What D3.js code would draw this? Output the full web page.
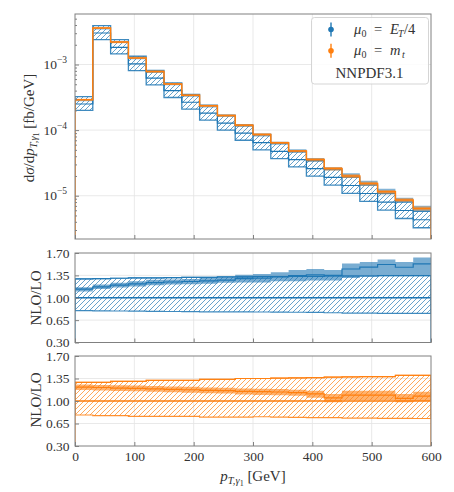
<!DOCTYPE html>
<html><head><meta charset="utf-8">
<script src="https://cdn.jsdelivr.net/npm/d3@7"></script>
<style>
body{margin:0;background:#fff}
text{font-family:"Liberation Serif","Times New Roman",serif;fill:#333}
</style>
</head><body>
<svg id="c" width="454" height="492"></svg>
<script>
// ---------------- data ----------------
const binEdges = [0,30,60,90,120,150,180,210,240,270,300,330,360,390,420,450,480,510,540,570,600];
// LO central, mu0 = E_T/4 [fb/GeV]
const loEt = [2.5e-4,3.02e-3,1.83e-3,1.02e-3,6.2e-4,4.0e-4,2.66e-4,1.82e-4,1.28e-4,9.0e-5,
              6.45e-5,4.75e-5,3.55e-5,2.58e-5,1.9e-5,1.43e-5,1.08e-5,8.0e-6,5.95e-6,4.3e-6];
// NLO central, mu0 = m_t [fb/GeV]
const nloMt = [2.9e-4,3.6e-3,2.2e-3,1.26e-3,7.8e-4,5.05e-4,3.4e-4,2.35e-4,1.67e-4,1.19e-4,
               8.6e-5,6.4e-5,4.8e-5,3.55e-5,2.6e-5,2.0e-5,1.53e-5,1.15e-5,8.6e-6,6.4e-6];
// ratio panel, mu0 = E_T/4 : LO scale band / LO
const loEtLo = [0.80,0.795,0.793,0.79,0.788,0.785,0.783,0.78,0.78,0.778,0.777,0.775,0.773,0.77,0.765,0.76,0.758,0.756,0.755,0.755];
const loEtHi = [1.295,1.30,1.305,1.31,1.31,1.315,1.32,1.32,1.325,1.325,1.33,1.33,1.335,1.335,1.34,1.34,1.34,1.345,1.345,1.345];
// ratio panel, mu0 = E_T/4 : NLO / LO
const nloEtC  = [1.135,1.17,1.197,1.218,1.238,1.246,1.254,1.265,1.277,1.30,1.305,1.33,1.345,1.36,1.35,1.45,1.48,1.52,1.477,1.53];
const nloEtLo = [1.098,1.135,1.16,1.176,1.197,1.207,1.213,1.22,1.233,1.24,1.24,1.26,1.26,1.27,1.27,1.31,1.337,1.353,1.34,1.353];
const nloEtHi = [1.166,1.207,1.233,1.26,1.28,1.285,1.295,1.31,1.32,1.36,1.37,1.40,1.435,1.45,1.435,1.535,1.56,1.60,1.56,1.63];
// ratio panel, mu0 = m_t : LO scale band / LO
const loMtLo = [0.782,0.771,0.771,0.76,0.76,0.76,0.76,0.75,0.75,0.75,0.755,0.75,0.745,0.742,0.74,0.735,0.733,0.73,0.73,0.728];
const loMtHi = [1.29,1.29,1.305,1.305,1.32,1.32,1.32,1.335,1.335,1.35,1.35,1.355,1.36,1.365,1.37,1.375,1.378,1.38,1.40,1.40];
// ratio panel, mu0 = m_t : NLO / LO
const nloMtC  = [1.215,1.21,1.20,1.195,1.19,1.18,1.175,1.165,1.16,1.15,1.145,1.14,1.13,1.11,1.05,1.09,1.09,1.09,1.04,1.075];
const nloMtLo = [1.17,1.165,1.155,1.15,1.145,1.135,1.13,1.12,1.115,1.10,1.095,1.09,1.08,1.05,0.98,1.015,1.015,1.015,0.98,1.0];
const nloMtHi = [1.255,1.25,1.245,1.24,1.235,1.225,1.22,1.21,1.205,1.195,1.19,1.185,1.175,1.16,1.11,1.16,1.16,1.16,1.11,1.145];

const xTicks = [0,100,200,300,400,500,600];
const logTicks = [1e-5,1e-4,1e-3];
const logTickLabels = ["−5","−4","−3"];
const ratioTicks = [0.30,0.65,1.00,1.35,1.70];
const legendLabels = [{base:"E",sub:"T",tail:"/4"},{base:"m",sub:"t",tail:""}];

// ---------------- layout ----------------
const BLUE = "#1f77b4", ORANGE = "#ff7f0e";
const L = 75, R = 431;
const P = {top:{t:14,b:239}, mid:{t:253,b:342.5}, bot:{t:356,b:446}};
const svg = d3.select("#c");
const x = d3.scaleLinear([0,600],[L,R]);
const yTop = d3.scaleLog([Math.pow(10,-5.66),Math.pow(10,-2.23)],[P.top.b,P.top.t]);
const yMid = d3.scaleLinear([0.3,1.7],[P.mid.b,P.mid.t]);
const yBot = d3.scaleLinear([0.3,1.7],[P.bot.b,P.bot.t]);
const n = loEt.length;

const defs = svg.append("defs");
function hatch(id,color){
  const p = defs.append("pattern").attr("id",id).attr("patternUnits","userSpaceOnUse")
    .attr("width",5).attr("height",5);
  p.append("path").attr("d","M-1,1 l2,-2 M0,5 l5,-5 M4,6 l2,-2")
    .attr("stroke",color).attr("stroke-width",0.8).attr("stroke-opacity",0.85);
}
hatch("hb",BLUE); hatch("ho",ORANGE);
Object.entries(P).forEach(([k,p])=>{
  defs.append("clipPath").attr("id","cl"+k).append("rect")
    .attr("x",L).attr("y",p.t).attr("width",R-L).attr("height",p.b-p.t);
});

function pts(lo,hi){
  return binEdges.map((e,i)=>({x:e, lo:lo[Math.min(i,n-1)], hi:hi[Math.min(i,n-1)]}));
}
function areaGen(y){ return d3.area().curve(d3.curveStepAfter).x(d=>x(d.x)).y0(d=>y(d.lo)).y1(d=>y(d.hi)); }
function lineGen(y){ return d3.line().curve(d3.curveStepAfter).x(d=>x(d.x)).y(d=>y(d.hi)); }
function stairsToBase(vals,y,base){
  const d = lineGen(y)(pts(vals,vals));
  return "M"+x(0)+","+base+"L"+d.slice(1)+"L"+x(600)+","+base;
}

// grids + frames
function panelBase(key,y,yt,isLog){
  const p = P[key];
  const g = svg.append("g");
  g.selectAll(".gx").data(xTicks.slice(1,-1)).join("line")
    .attr("x1",d=>x(d)).attr("x2",d=>x(d)).attr("y1",p.t).attr("y2",p.b)
    .attr("stroke","#e3e3e3").attr("stroke-width",0.8);
  g.selectAll(".gy").data(yt).join("line")
    .attr("x1",L).attr("x2",R).attr("y1",d=>y(d)).attr("y2",d=>y(d))
    .attr("stroke","#e3e3e3").attr("stroke-width",0.8);
}
panelBase("top",yTop,logTicks,true);
panelBase("mid",yMid,ratioTicks.slice(1,-1));
panelBase("bot",yBot,ratioTicks.slice(1,-1));

// ---------------- top panel ----------------
const gT = svg.append("g").attr("clip-path","url(#cltop)");
const loAbsLo = loEt.map((v,i)=>v*loEtLo[i]);
const loAbsHi = loEt.map((v,i)=>v*loEtHi[i]);
gT.append("path").attr("d",areaGen(yTop)(pts(loAbsLo,loAbsHi)))
  .attr("fill","url(#hb)").attr("stroke",BLUE).attr("stroke-width",1.3).attr("stroke-opacity",0.85);
gT.append("path").attr("d",lineGen(yTop)(pts(loEt,loEt)))
  .attr("fill","none").attr("stroke",BLUE).attr("stroke-width",1.2);
const nloAbsLo = loEt.map((v,i)=>v*nloEtLo[i]);
const nloAbsHi = loEt.map((v,i)=>v*nloEtHi[i]);
gT.append("path").attr("d",areaGen(yTop)(pts(nloAbsLo,nloAbsHi)))
  .attr("fill",BLUE).attr("fill-opacity",0.55);
const mtAbsLo = nloMt.map((v,i)=>v*nloMtLo[i]/nloMtC[i]);
const mtAbsHi = nloMt.map((v,i)=>v*nloMtHi[i]/nloMtC[i]);
gT.append("path").attr("d",areaGen(yTop)(pts(mtAbsLo,mtAbsHi)))
  .attr("fill",ORANGE).attr("fill-opacity",0.5);
gT.append("path").attr("d",stairsToBase(nloMt,yTop,P.top.b))
  .attr("fill","none").attr("stroke",ORANGE).attr("stroke-width",1.5);

// ---------------- ratio panels ----------------
function ratioPanel(key,y,color,pat,bLo,bHi,c,lo,hi){
  const g = svg.append("g").attr("clip-path","url(#cl"+key+")");
  g.append("path").attr("d",areaGen(y)(pts(bLo,bHi)))
    .attr("fill","url(#"+pat+")").attr("stroke",color).attr("stroke-width",1.2).attr("stroke-opacity",0.85);
  g.append("path").attr("d",stairsToBase(bHi,y,P[key].b))
    .attr("fill","none").attr("stroke",color).attr("stroke-width",1.2).attr("stroke-opacity",0.85);
  const ones = bLo.map(()=>1);
  g.append("path").attr("d",lineGen(y)(pts(ones,ones)))
    .attr("fill","none").attr("stroke",color).attr("stroke-width",1.3);
  g.append("path").attr("d",areaGen(y)(pts(lo,hi)))
    .attr("fill",color).attr("fill-opacity",0.6);
  g.append("path").attr("d",lineGen(y)(pts(c,c)))
    .attr("fill","none").attr("stroke",color).attr("stroke-width",1.2);
}
ratioPanel("mid",yMid,BLUE,"hb",loEtLo,loEtHi,nloEtC,nloEtLo,nloEtHi);
ratioPanel("bot",yBot,ORANGE,"ho",loMtLo,loMtHi,nloMtC,nloMtLo,nloMtHi);

// ---------------- axes ----------------
const AX = "#808080";
function styleAxis(g){
  g.select(".domain").remove();
  g.selectAll(".tick line").attr("stroke",AX);
  g.selectAll(".tick text").attr("font-size",13.5).attr("fill","#333")
   .attr("font-family","Liberation Serif, serif");
}
// x axes
[["top",false],["mid",false],["bot",true]].forEach(([k,lab])=>{
  const g = svg.append("g").attr("transform",`translate(0,${P[k].b})`)
    .call(d3.axisBottom(x).tickValues(xTicks).tickSize(-4).tickPadding(5)
      .tickFormat(lab? d3.format("d") : ()=>""));
  styleAxis(g);
});
// log y axis
{
  const minor = [];
  [-6,-5,-4,-3].forEach(e=>{ for(let m=2;m<=9;m++){ const v=m*Math.pow(10,e);
    if(v>yTop.domain()[0] && v<yTop.domain()[1]) minor.push(v);} });
  const g1 = svg.append("g").attr("transform",`translate(${L},0)`)
    .call(d3.axisLeft(yTop).tickValues(minor).tickSize(-2).tickFormat(()=>""));
  styleAxis(g1);
  const g2 = svg.append("g").attr("transform",`translate(${L},0)`)
    .call(d3.axisLeft(yTop).tickValues(logTicks).tickSize(-4).tickFormat(()=>""));
  styleAxis(g2);
  const t = svg.append("g").selectAll("text").data(logTicks).join("text")
    .attr("x",L-8).attr("y",d=>yTop(d)+4.5).attr("text-anchor","end").attr("font-size",13.5);
  t.append("tspan").text("10");
  t.append("tspan").attr("dy",-6).attr("font-size",9.5).text((d,i)=>logTickLabels[i]);
}
// ratio y axes
[["mid",yMid],["bot",yBot]].forEach(([k,y])=>{
  const g = svg.append("g").attr("transform",`translate(${L},0)`)
    .call(d3.axisLeft(y).tickValues(ratioTicks).tickSize(-4).tickPadding(5.5).tickFormat(d3.format(".2f")));
  styleAxis(g);
});
// frames
Object.values(P).forEach(p=>{
  svg.append("rect").attr("x",L).attr("y",p.t).attr("width",R-L).attr("height",p.b-p.t)
    .attr("fill","none").attr("stroke",AX).attr("stroke-width",1);
});

// ---------------- labels ----------------
{
  const t = svg.append("text").attr("transform","translate(34,128) rotate(-90)")
    .attr("text-anchor","middle").attr("font-size",15);
  t.append("tspan").text("d");
  t.append("tspan").attr("font-style","italic").text("σ");
  t.append("tspan").text("/d");
  t.append("tspan").attr("font-style","italic").text("p");
  t.append("tspan").attr("font-style","italic").attr("font-size",10.5).attr("dy",3).text("T,γ");
  t.append("tspan").attr("font-size",8).attr("dy",1.5).text("1");
  t.append("tspan").attr("dy",-4.5).text(" [fb/GeV]");
}
[["mid",298],["bot",400]].forEach(([k,yc])=>{
  svg.append("text").attr("transform",`translate(41,${yc}) rotate(-90)`)
    .attr("text-anchor","middle").attr("font-size",15).text("NLO/LO");
});
{
  const t = svg.append("text").attr("x",253).attr("y",481).attr("text-anchor","middle").attr("font-size",15);
  t.append("tspan").attr("font-style","italic").text("p");
  t.append("tspan").attr("font-style","italic").attr("font-size",10.5).attr("dy",3).text("T,γ");
  t.append("tspan").attr("font-size",8).attr("dy",1.5).text("1");
  t.append("tspan").attr("dy",-4.5).text(" [GeV]");
}

// ---------------- legend ----------------
{
  const g = svg.append("g");
  g.append("rect").attr("x",311.5).attr("y",17.5).attr("width",117).attr("height",66.5)
    .attr("rx",3).attr("fill","#fff").attr("fill-opacity",0.85).attr("stroke","#d0d0d0").attr("stroke-width",0.9);
  [BLUE,ORANGE].forEach((c,i)=>{
    const yy = 29.5 + i*21.3;
    g.append("line").attr("x1",331).attr("x2",331).attr("y1",yy-7).attr("y2",yy+7)
      .attr("stroke",c).attr("stroke-width",1.4);
    g.append("circle").attr("cx",331).attr("cy",yy).attr("r",2.8).attr("fill",c);
    const lab = legendLabels[i];
    g.append("text").attr("x",354).attr("y",yy+4.5).attr("font-size",14.5).attr("font-style","italic").text("μ");
    g.append("text").attr("x",361.5).attr("y",yy+7.5).attr("font-size",10).text("0");
    g.append("text").attr("x",374).attr("y",yy+4.5).attr("font-size",14.5).text("=");
    g.append("text").attr("x",390).attr("y",yy+4.5).attr("font-size",14.5).attr("font-style","italic").text(lab.base);
    const bw = lab.base==="E" ? 8 : 12;
    g.append("text").attr("x",390+bw).attr("y",yy+7.5).attr("font-size",10).attr("font-style","italic").text(lab.sub);
    if(lab.tail) g.append("text").attr("x",404).attr("y",yy+4.5).attr("font-size",14.5).text(lab.tail);
  });
  g.append("text").attr("x",369.5).attr("y",77.5).attr("text-anchor","middle").attr("font-size",15).text("NNPDF3.1");
}
</script>
</body></html>
